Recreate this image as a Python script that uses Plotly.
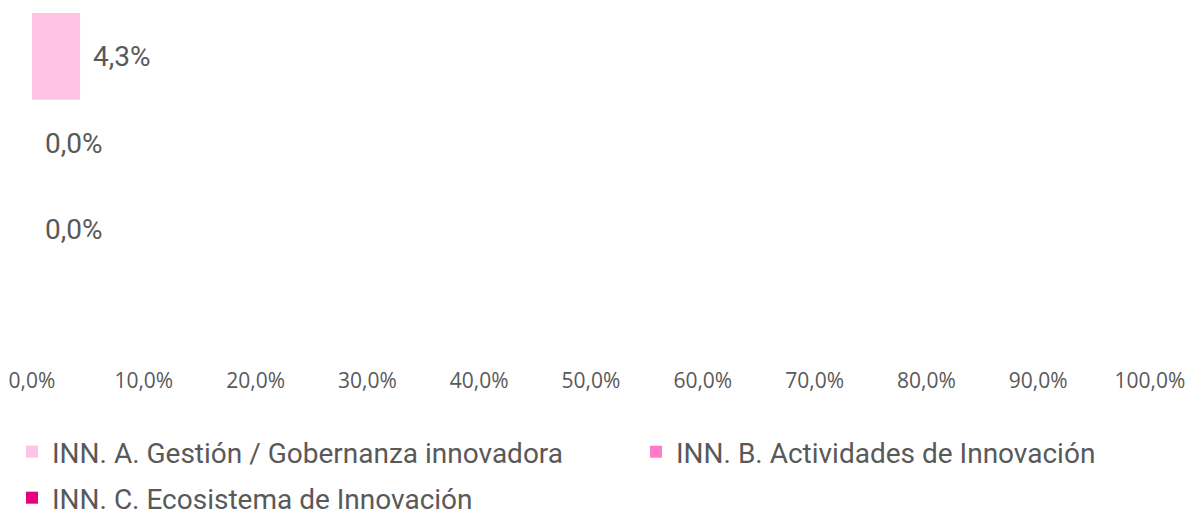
import plotly.graph_objects as go

series = ["INN. A. Gestión / Gobernanza innovadora",
          "INN. B. Actividades de Innovación",
          "INN. C. Ecosistema de Innovación"]
values = [0.043, 0.0, 0.0]
positions = [3, 2, 1]
colors = ["#FFC4E4", "#FF7AC8", "#E6007E"]
x_ticks = [0, 0.1, 0.2, 0.3, 0.4, 0.5, 0.6, 0.7, 0.8, 0.9, 1.0]

fig = go.Figure()
legends = ["legend", "legend2", "legend3"]
for name, v, p, c, lg in zip(series, values, positions, colors, legends):
    fig.add_trace(go.Bar(
        x=[v], y=[p], orientation="h", name=name, width=1.0,
        marker=dict(color=c, line=dict(width=0)), legend=lg,
        hoverinfo="skip",
    ))
    fig.add_annotation(
        x=v, y=p, xref="x", yref="y", text=f"{v*100:.1f}%".replace(".", ","),
        showarrow=False, xanchor="left", xshift=11,
        font=dict(family="Roboto", size=28, color="#595959"),
    )

legend_common = dict(
    orientation="h", font=dict(family="Roboto", size=28, color="#595959"),
    xref="container", yref="container", xanchor="left", yanchor="middle",
    bgcolor="rgba(0,0,0,0)",
    itemclick=False, itemdoubleclick=False,
)

fig.update_layout(
    width=1189, height=515,
    margin=dict(l=32, r=39, t=13, b=155, autoexpand=False),
    plot_bgcolor="white", paper_bgcolor="white",
    separators=",.",
    barmode="overlay",
    showlegend=True,
    xaxis=dict(range=[0, 1], tickvals=x_ticks, tickformat=".1%",
               showgrid=False, zeroline=False, showline=False,
               tickfont=dict(family="Open Sans", size=21, color="#595959"),
               ticks="", ticklabelstandoff=6, fixedrange=True, automargin=False),
    yaxis=dict(range=[-0.5, 3.5], visible=False, fixedrange=True),
    legend=dict(x=12/1189, y=1 - 452/515, **legend_common),
    legend2=dict(x=636/1189, y=1 - 452/515, **legend_common),
    legend3=dict(x=12/1189, y=1 - 498/515, **legend_common),
)

fig.write_html(
    "out.html",
    config={"displayModeBar": False},
    post_script="document.body.style.margin='0';document.body.style.overflow='hidden';",
)
